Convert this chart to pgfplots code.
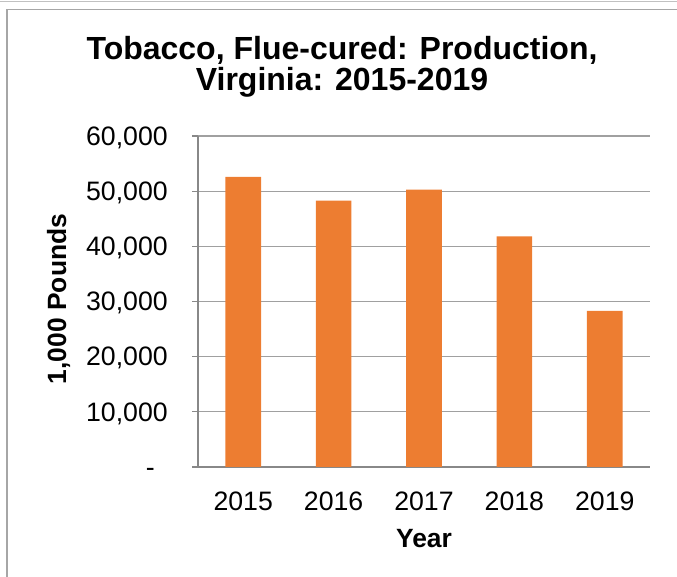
\documentclass[border=0pt]{standalone}
\usepackage{pgfplots}
\pgfplotsset{compat=1.18}
\usepackage{fontspec}
\setmainfont{Liberation Sans}
\definecolor{barorange}{HTML}{ED7D31}
\definecolor{gridgray}{HTML}{A0A0A0}
\definecolor{axisgray}{HTML}{888888}
\definecolor{framegray}{HTML}{A6A6A6}
\begin{document}
\begin{tikzpicture}[x=0.75pt,y=0.75pt]
\useasboundingbox (0,0) rectangle (677,577);
% outer frame
\draw[color=framegray!70, line width=0.9pt] (0,575.5) -- (677,575.5);
\draw[color=framegray, line width=1.1pt] (7,0) -- (7,567.5) -- (677,567.5);
\begin{axis}[
  at={(148.5pt,82.5pt)}, anchor=south west,
  scale only axis, width=339pt, height=248.25pt,
  xmin=-0.5, xmax=4.5, ymin=0, ymax=60000,
  scaled y ticks=false,
  axis x line*=bottom, axis y line*=left,
  axis line style={color=axisgray, line width=0.8pt},
  ymajorgrids, grid style={color=gridgray, line width=0.8pt},
  xtick={0,1,2,3,4},
  xticklabels={2015,2016,2017,2018,2019},
  minor xtick={-0.5,0.5,1.5,2.5,3.5,4.5},
  xtick style={draw=none},
  minor x tick style={color=axisgray, line width=0.8pt},
  minor tick length=5.5pt,
  ytick={0,10000,20000,30000,40000,50000,60000},
  yticklabels={{-\rule{9.75pt}{0pt}},{10,000},{20,000},{30,000},{40,000},{50,000},{60,000}},
  y tick style={color=axisgray, line width=0.8pt},
  major tick length=4.5pt,
  tick align=outside,
  /pgf/number format/assume math mode=true,
  ticklabel style={font=\fontsize{20pt}{22pt}\selectfont, inner sep=0pt},
  xticklabel style={anchor=base, yshift=-28.5pt},
  yticklabel style={anchor=base east, xshift=-18pt, yshift=-7pt},
  xlabel={Year},
  ylabel={1,000 Pounds},
  label style={font=\bfseries\fontsize{19.8pt}{22pt}\selectfont, inner sep=0pt},
  xlabel style={at={(axis description cs:0.5,-0.2417)}, anchor=base},
  ylabel style={at={(axis description cs:-0.292,0.5076)}, anchor=base},
  bar width=0.394,
  clip=false,
]
\addplot[ybar, fill=barorange, draw=none] coordinates {
  (0,52600) (1,48300) (2,50300) (3,41800) (4,28300)
};
\end{axis}
\node[anchor=base, font=\bfseries\fontsize{24pt}{28pt}\selectfont, inner sep=0pt] at (342,517) {Tobacco, Flue-cured: Production,};
\node[anchor=base, font=\bfseries\fontsize{24pt}{28pt}\selectfont, inner sep=0pt] at (342,486.5) {Virginia: 2015-2019};
\end{tikzpicture}
\end{document}
